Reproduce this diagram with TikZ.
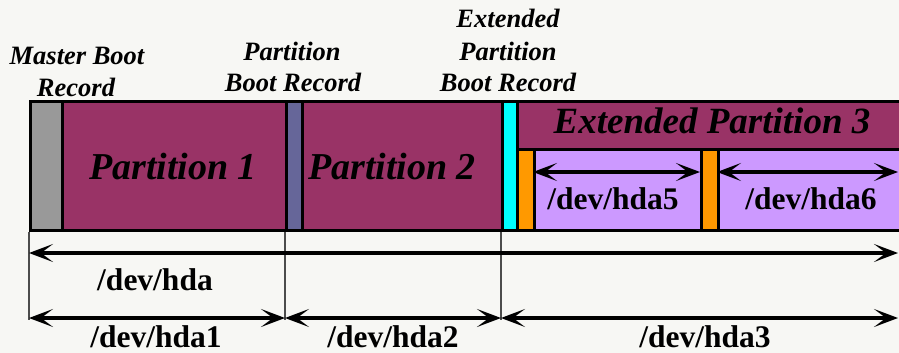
\documentclass[tikz,border=0pt]{standalone}
\usepackage{fontspec}
\setmainfont{Liberation Serif}
\usetikzlibrary{arrows.meta}
\definecolor{bgc}{HTML}{F7F7F4}
\definecolor{mbrgray}{HTML}{999999}
\definecolor{plum}{HTML}{993366}
\definecolor{pbrblue}{HTML}{666699}
\definecolor{epbrcyan}{HTML}{00FFFF}
\definecolor{ebrorange}{HTML}{FF9900}
\definecolor{lav}{HTML}{CC99FF}
\begin{document}
\begin{tikzpicture}[x=1pt,y=-1pt,
  seg/.style={draw=black,line width=3pt,rectangle,inner sep=0pt,anchor=north west},
  lbl/.style={font=\fontsize{26.5}{30}\selectfont\bfseries\itshape,inner sep=0pt,anchor=base},
  big/.style={font=\fontsize{38}{44}\selectfont\bfseries\itshape,inner sep=0pt,anchor=base},
  dev/.style={font=\fontsize{31.5}{36}\selectfont\bfseries,inner sep=0pt,anchor=base},
  tick/.style={draw=black!70,line width=1.2pt},
  dimarrow/.style={line width=4.5pt,
     {Stealth[length=24pt,width=18pt,inset=12pt]}-{Stealth[length=24pt,width=18pt,inset=12pt]}}]
\fill[bgc] (0,0) rectangle (899,353);
\useasboundingbox (0,0) rectangle (899,353);

% bar segments
\node[seg,fill=mbrgray,minimum width=32pt,minimum height=129pt] (mbr) at (29,100) {};
\node[seg,fill=plum,minimum width=224pt,minimum height=129pt] (p1) at (61,100) {};
\node[seg,fill=pbrblue,minimum width=16pt,minimum height=129pt] (pbr) at (285,100) {};
\node[seg,fill=plum,minimum width=200pt,minimum height=129pt] (p2) at (301,100) {};
\node[seg,fill=epbrcyan,minimum width=15pt,minimum height=129pt] (epbr) at (501,100) {};
\node[seg,fill=plum,minimum width=400pt,minimum height=48pt] (ext) at (516,100) {};
\node[seg,fill=ebrorange,minimum width=17pt,minimum height=81pt] (or1) at (516,148) {};
\node[seg,fill=lav,minimum width=167pt,minimum height=81pt] (h5) at (533,148) {};
\node[seg,fill=ebrorange,minimum width=17pt,minimum height=81pt] (or2) at (700,148) {};
\node[seg,fill=lav,minimum width=200pt,minimum height=81pt] (h6) at (717,148) {};

% texts in bar
\node[big] (t1) at (173,179) {Partition 1};
\node[big] (t2) at (392,179) {Partition 2};
\node[font=\fontsize{37}{42}\selectfont\bfseries\itshape,inner sep=0pt,anchor=base] (t3) at (712,133) {Extended Partition 3};

% upper labels
\node[lbl] (mbrA) at (77,64) {Master Boot};
\node[lbl] (mbrB) at (76,96) {Record};
\node[lbl] (pbrA) at (292,61) {Partition};
\node[lbl] (pbrB) at (293,92) {Boot Record};
\node[lbl] (epA) at (508,28) {Extended};
\node[lbl] (epB) at (508,60) {Partition};
\node[lbl] (epC) at (508,91) {Boot Record};

% ticks below the bar
\coordinate (k0) at (29,320);
\coordinate (k1) at (285,320);
\coordinate (k2) at (501,320);
\draw[tick] (mbr.south west) -- (k0);
\draw[tick] (pbr.south west) -- (k1);
\draw[tick] (epbr.south west) -- (k2);

% arrows
\coordinate (aL) at (29,253);
\coordinate (aR) at (898,253);
\coordinate (b0) at (29,318);
\coordinate (b1) at (285,318);
\coordinate (b2) at (501,318);
\coordinate (b3) at (898,318);
\coordinate (c0) at (533,172);
\coordinate (c1) at (700,172);
\coordinate (c2) at (717,172);
\coordinate (c3) at (898,172);
\draw[dimarrow] (aL) -- (aR);
\draw[dimarrow] (b0) -- (b1);
\draw[dimarrow] (b1) -- (b2);
\draw[dimarrow] (b2) -- (b3);
\draw[dimarrow] (c0) -- (c1);
\draw[dimarrow] (c2) -- (c3);

% device names
\node[dev] (d5) at (613,209) {/dev/hda5};
\node[dev] (d6) at (811,209) {/dev/hda6};
\node[dev] (d0) at (155,290) {/dev/hda};
\node[dev] (d1) at (156,347) {/dev/hda1};
\node[dev] (d2) at (393,347) {/dev/hda2};
\node[dev] (d3) at (705,347) {/dev/hda3};
\end{tikzpicture}
\end{document}
